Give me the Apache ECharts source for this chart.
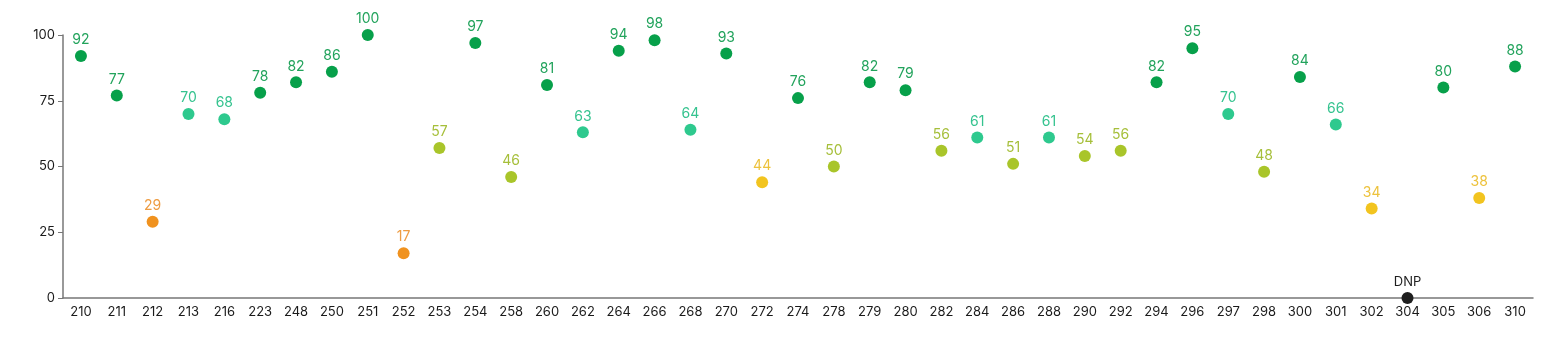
<!DOCTYPE html>
<html>
<head>
<meta charset="utf-8">
<script src="https://cdn.jsdelivr.net/npm/echarts@6/dist/echarts.min.js"></script>
<style>
  html, body { margin: 0; padding: 0; background: #fff; }
  #chart { width: 1549px; height: 348px; }
</style>
</head>
<body>
<div id="chart"></div>
<script>
// Race numbers along the x axis
const categories = ['210','211','212','213','216','223','248','250','251','252','253','254','258','260','262','264','266','268','270','272','274','278','279','280','282','284','286','288','290','292','294','296','297','298','300','301','302','304','305','306','310'];
// Scores per race; 'DNP' = did not participate
const scores = [92,77,29,70,68,78,82,86,100,17,57,97,46,81,63,94,98,64,93,44,76,50,82,79,56,61,51,61,54,56,82,95,70,48,84,66,34,'DNP',80,38,88];
const yTicks = [0, 25, 50, 75, 100];

// Score bands: lower bound -> dot colour / label colour
const bands = [
  { min: 75, dot: '#07a04a', text: '#22a35c' },
  { min: 60, dot: '#2ec98e', text: '#35c38f' },
  { min: 45, dot: '#a9c52a', text: '#a6bf3a' },
  { min: 30, dot: '#f2c41f', text: '#edc23c' },
  { min: 0,  dot: '#f0921f', text: '#ee9c42' }
];
function band(v) { return bands.find(b => v >= b.min); }

const data = scores.map(s => {
  if (s === 'DNP') {
    return {
      value: 0,
      itemStyle: { color: '#1e1e1e' },
      label: { formatter: 'DNP', color: '#1e1e1e', fontSize: 13 }
    };
  }
  const b = band(s);
  return {
    value: s,
    itemStyle: { color: b.dot },
    label: { color: b.text }
  };
});

const chart = echarts.init(document.getElementById('chart'));
chart.setOption({
  animation: false,
  grid: { left: 63, right: 16, top: 35, bottom: 50 },
  xAxis: {
    type: 'category',
    data: categories,
    boundaryGap: true,
    axisLine: { lineStyle: { color: '#777', width: 1.5 } },
    axisTick: { alignWithLabel: true, length: 5, lineStyle: { color: '#777' } },
    axisLabel: { color: '#1a1a1a', fontSize: 13, fontFamily: 'Inter', margin: 8 }
  },
  yAxis: {
    type: 'value',
    min: yTicks[0],
    max: yTicks[yTicks.length - 1],
    interval: 25,
    splitLine: { show: false },
    axisLine: { show: true, lineStyle: { color: '#777', width: 1.5 } },
    axisTick: { show: true, length: 5, lineStyle: { color: '#777' } },
    axisLabel: { color: '#1a1a1a', fontSize: 13, fontFamily: 'Inter', margin: 8 }
  },
  series: [{
    type: 'scatter',
    data: data,
    symbolSize: 12,
    clip: false,
    itemStyle: { opacity: 1 },
    label: {
      show: true,
      position: 'top',
      distance: 3,
      fontSize: 14,
      fontFamily: 'Inter'
    }
  }]
});
</script>
</body>
</html>
